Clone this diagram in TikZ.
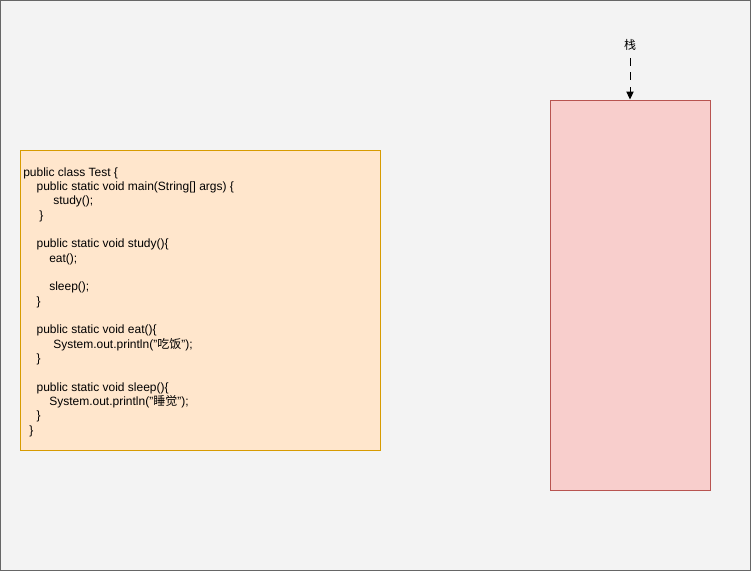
\documentclass[tikz,border=0pt]{standalone}
\usepackage{fontspec}
\setmainfont{Liberation Sans}
\newfontfamily\cjk{Noto Sans CJK SC}
\usetikzlibrary{arrows.meta}

\definecolor{pagebg}{HTML}{F3F3F3}
\definecolor{pageline}{HTML}{666666}
\definecolor{codefill}{HTML}{FFE6CC}
\definecolor{codeline}{HTML}{D79B00}
\definecolor{stackfill}{HTML}{F8CECC}
\definecolor{stackline}{HTML}{B85450}

\newcommand{\ind}[1]{\hspace*{#1pt}}

\begin{document}
\begin{tikzpicture}[x=0.75pt,y=-0.75pt,
  codebox/.style={draw=codeline,fill=codefill,minimum width=270pt,minimum height=225pt,
    inner sep=0pt,line width=0.75pt},
  stackbox/.style={draw=stackline,fill=stackfill,minimum width=120pt,minimum height=292.5pt,
    inner sep=0pt,line width=0.75pt},
  codetext/.style={align=left,font=\fontsize{9}{10.75}\selectfont,inner sep=0pt,anchor=west},
  pushline/.style={dashed,dash pattern=on 6pt off 5pt,line width=0.75pt,
    -{Triangle[length=6pt,width=5.5pt]}}]

% background
\useasboundingbox (0,0) rectangle (751,571);
\draw[pageline,fill=pagebg,line width=0.75pt] (0.5,0.5) rectangle (750.5,570.5);

% the code
\node[codebox] (code) at (200,300) {};
\node[codetext] (codetxt) at (23,302) {%
public class Test \{\\
\ind{10}public static void main(String[] args) \{\\
\ind{22.5}study();\\
\ind{12}\}\\[10.75pt]
\ind{10}public static void study()\{\\
\ind{19.5}eat();\\[10.75pt]
\ind{19.5}sleep();\\
\ind{10}\}\\[10.75pt]
\ind{10}public static void eat()\{\\
\ind{22.5}System.out.println("{\cjk 吃饭}");\\
\ind{10}\}\\[10.75pt]
\ind{10}public static void sleep()\{\\
\ind{19.5}System.out.println("{\cjk 睡觉}");\\
\ind{10}\}\\
\ind{4.5}\}};

% the stack
\node[stackbox] (stack) at (630,295) {};
\node[font=\fontsize{9}{10}\cjk,inner sep=0pt] (stacklabel) at (630,45) {栈};
\path (stacklabel.south) ++(0,7) coordinate (pushstart);
\draw[pushline] (pushstart) -- (stack.north);
\end{tikzpicture}
\end{document}
